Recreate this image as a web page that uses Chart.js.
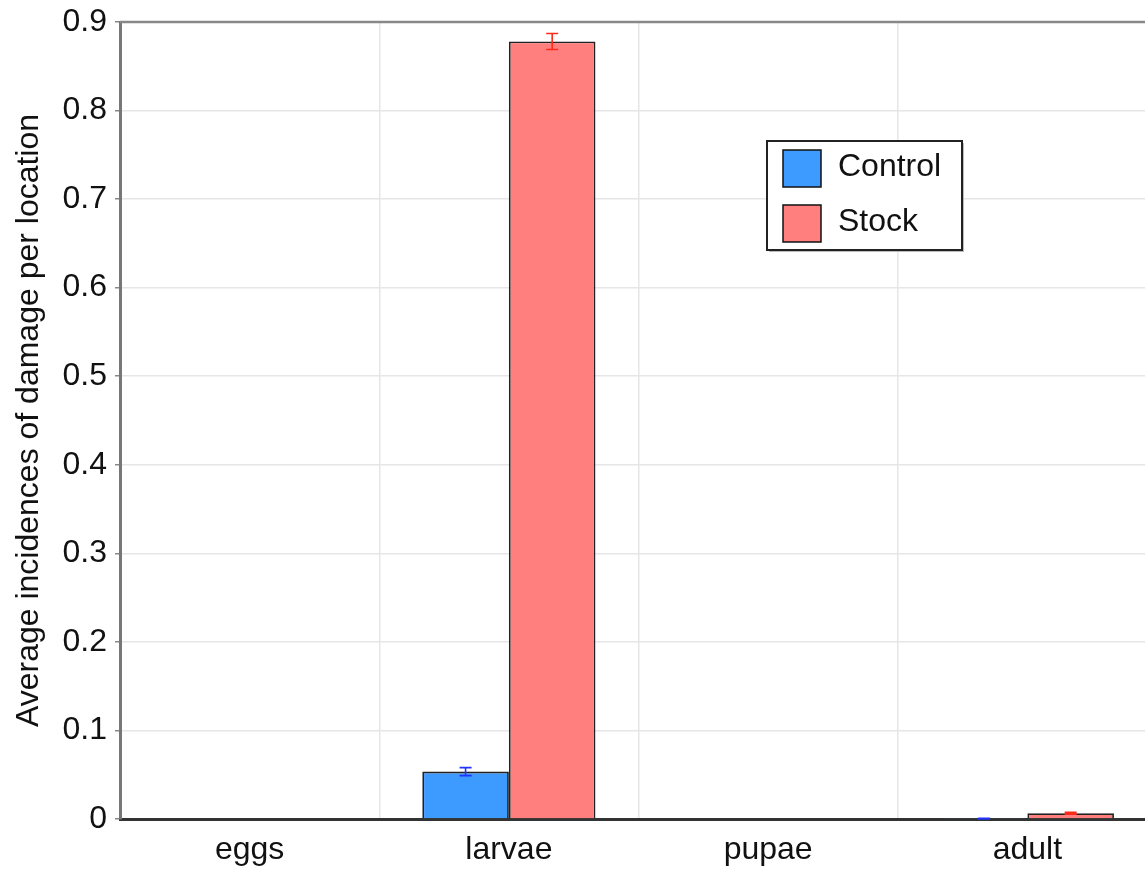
<!DOCTYPE html>
<html><head><meta charset="utf-8">
<style>
html,body{margin:0;padding:0;background:#fff;overflow:hidden;width:1145px;height:869px}
#wrap{position:relative;width:1160px;height:869px}
</style>
<script src="https://cdn.jsdelivr.net/npm/chart.js@4/dist/chart.umd.min.js"></script>
</head><body><div id="wrap"><canvas id="c" width="1157" height="869"></canvas></div>
<script>
const categories = ['eggs', 'larvae', 'pupae', 'adult'];
const seriesNames = ['Control', 'Stock'];
const control = [0, 0.0535, 0, 0.0005];
const controlErr = [0, 0.0045, 0, 0.0004];
const stock = [0, 0.878, 0, 0.0065];
const stockErr = [0, 0.009, 0, 0.001];
const yTicks = [0, 0.1, 0.2, 0.3, 0.4, 0.5, 0.6, 0.7, 0.8, 0.9];
const yTitle = 'Average incidences of damage per location';

const FONT = 'Liberation Sans, Arial, Helvetica, sans-serif';
const fills = ['#3d9bff', '#ff7f7f'];
const errColors = ['#2233ff', '#ff2a1a'];
const errors = [controlErr, stockErr];

const errorBars = {
  id: 'errorBars',
  afterDatasetsDraw(chart) {
    const ctx = chart.ctx, ys = chart.scales.y;
    chart.data.datasets.forEach((ds, di) => {
      const meta = chart.getDatasetMeta(di);
      meta.data.forEach((bar, i) => {
        const e = errors[di][i];
        if (!e) return;
        const v = ds.data[i];
        const y1 = ys.getPixelForValue(v + e), y2 = ys.getPixelForValue(Math.max(0, v - e));
        ctx.save();
        ctx.strokeStyle = errColors[di];
        ctx.lineWidth = 1.6;
        ctx.beginPath();
        ctx.moveTo(bar.x, y1); ctx.lineTo(bar.x, y2);
        ctx.moveTo(bar.x - 6, y1); ctx.lineTo(bar.x + 6, y1);
        ctx.moveTo(bar.x - 6, y2); ctx.lineTo(bar.x + 6, y2);
        ctx.stroke();
        ctx.restore();
      });
    });
  }
};

const frame = {
  id: 'frame',
  beforeDatasetsDraw(chart) {
    const ctx = chart.ctx, a = chart.chartArea;
    ctx.save();
    ctx.strokeStyle = '#888';
    ctx.lineWidth = 2.5;
    ctx.beginPath();
    ctx.moveTo(a.left, a.top); ctx.lineTo(a.right + 5, a.top);
    ctx.stroke();
    ctx.restore();
  }
};

const boxLegend = {
  id: 'boxLegend',
  afterDraw(chart) {
    const ctx = chart.ctx;
    const x = 767, y = 141, w = 195, h = 109;
    ctx.save();
    ctx.fillStyle = '#bbb';
    ctx.fillRect(x + 2, y + 2, w, h);
    ctx.fillStyle = '#fff';
    ctx.fillRect(x, y, w, h);
    ctx.strokeStyle = '#222';
    ctx.lineWidth = 2;
    ctx.strokeRect(x, y, w, h);
    ctx.font = '32px ' + FONT;
    ctx.textBaseline = 'middle';
    chart.data.datasets.forEach((ds, i) => {
      const sy = y + 9 + i * 55;
      ctx.fillStyle = ds.backgroundColor;
      ctx.fillRect(x + 16, sy, 38, 37);
      ctx.strokeStyle = '#111';
      ctx.lineWidth = 1.5;
      ctx.strokeRect(x + 16, sy, 38, 37);
      ctx.fillStyle = '#111';
      ctx.fillText(ds.label, x + 71, sy + 17);
    });
    ctx.restore();
  }
};

new Chart(document.getElementById('c'), {
  type: 'bar',
  data: {
    labels: categories,
    datasets: [
      { label: seriesNames[0], data: control, backgroundColor: fills[0], borderColor: '#222', borderWidth: 1.8, categoryPercentage: 0.668, barPercentage: 1 },
      { label: seriesNames[1], data: stock, backgroundColor: fills[1], borderColor: '#222', borderWidth: 1.8, categoryPercentage: 0.668, barPercentage: 1 }
    ]
  },
  options: {
    responsive: false,
    animation: false,
    devicePixelRatio: 1,
    layout: { padding: { top: 22, right: 0, left: 0, bottom: 0 } },
    plugins: { legend: { display: false }, tooltip: { enabled: false } },
    scales: {
      x: {
        grid: { offset: true, color: '#e6e6e6', lineWidth: 1.5, drawTicks: false },
        border: { color: '#333', width: 3 },
        ticks: { font: { family: FONT, size: 32 }, color: '#111', padding: 12 },
        afterFit(s) { s.height = 50; s.paddingLeft = 0; s.paddingRight = 0; }
      },
      y: {
        min: 0, max: 0.9,
        afterBuildTicks(s) { s.ticks = yTicks.map(v => ({ value: v })); },
        ticks: { font: { family: FONT, size: 32 }, color: '#111', padding: 8 },
        grid: { color: '#e6e6e6', lineWidth: 1.5, tickColor: '#888', tickLength: 5 },
        border: { color: '#777', width: 3 },
        title: { display: true, text: yTitle, font: { family: FONT, size: 32 }, color: '#111', padding: { top: 10, bottom: 0 } },
        afterFit(s) { s.width = 120; s.paddingTop = 0; s.paddingBottom = 0; }
      }
    }
  },
  plugins: [frame, errorBars, boxLegend]
});
</script>
</body></html>
